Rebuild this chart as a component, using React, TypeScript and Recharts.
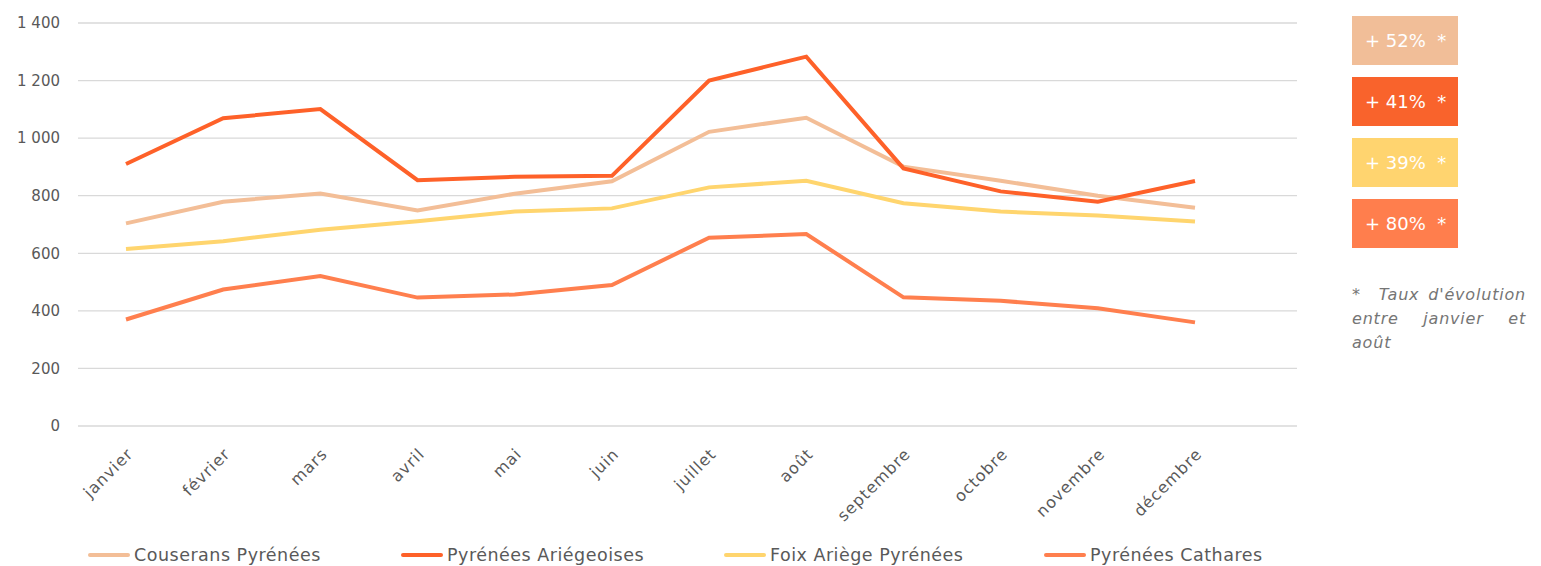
import { CartesianGrid, Line, LineChart, XAxis, YAxis } from "recharts";

const months = [
  "janvier",
  "février",
  "mars",
  "avril",
  "mai",
  "juin",
  "juillet",
  "août",
  "septembre",
  "octobre",
  "novembre",
  "décembre",
];

const couserans = [704, 779, 808, 749, 807, 850, 1022, 1071, 901, 852, 800, 758];
const ariegeoises = [910, 1069, 1101, 854, 866, 869, 1200, 1283, 895, 815, 779, 851];
const foix = [615, 642, 682, 711, 745, 756, 829, 852, 774, 745, 731, 710];
const cathares = [370, 474, 521, 446, 457, 490, 654, 667, 447, 435, 409, 360];

const yTicks = [0, 200, 400, 600, 800, 1000, 1200, 1400];

const seriesNames = [
  "Couserans Pyrénées",
  "Pyrénées Ariégeoises",
  "Foix Ariège Pyrénées",
  "Pyrénées Cathares",
];
const growth = ["+ 52%", "+ 41%", "+ 39%", "+ 80%"];

const colors = ["#F3BE97", "#FE6129", "#FFD56E", "#FF7F4E"];
const boxColors = ["#F1BE98", "#F9632C", "#FFD46F", "#FF7E4D"];
const legendLeft = [88, 401, 724, 1044];

const FONT = "'DejaVu Sans', 'Noto Sans', sans-serif";
const TEXT = "#595959";

const data = months.map((month, i) => ({
  month,
  couserans: couserans[i],
  ariegeoises: ariegeoises[i],
  foix: foix[i],
  cathares: cathares[i],
}));

const keys = ["couserans", "ariegeoises", "foix", "cathares"];

function formatThousands(v: number) {
  return v >= 1000 ? `${Math.floor(v / 1000)} ${String(v % 1000).padStart(3, "0")}` : String(v);
}

function MonthTick(props: any) {
  const { x, y, payload } = props;
  return (
    <text
      x={0}
      y={0}
      transform={`translate(${x + 8}, ${y + 27}) rotate(-45)`}
      textAnchor="end"
      fill={TEXT}
      fontSize={16}
      letterSpacing={1}
      fontFamily={FONT}
    >
      {payload.value}
    </text>
  );
}

export default function App() {
  return (
    <div
      style={{
        position: "absolute",
        left: 0,
        top: 0,
        width: 1541,
        height: 566,
        background: "#fff",
        fontFamily: FONT,
      }}
    >
      <LineChart
        width={1297}
        height={566}
        data={data}
        margin={{ top: 23, right: 0, left: 0, bottom: 0 }}
      >
        <CartesianGrid vertical={false} stroke="#d9d9d9" strokeWidth={1.3} />
        <XAxis
          dataKey="month"
          height={140}
          axisLine={false}
          tickLine={false}
          tickSize={0}
          interval={0}
          padding={{ left: 48, right: 102 }}
          tick={<MonthTick />}
        />
        <YAxis
          width={78}
          domain={[0, 1400]}
          ticks={yTicks}
          axisLine={false}
          tickLine={false}
          tickSize={0}
          tickMargin={18}
          tickFormatter={formatThousands}
          tick={{ fill: TEXT, fontSize: 15, fontFamily: FONT }}
        />
        {keys.map((k, i) => (
          <Line
            key={k}
            type="linear"
            dataKey={k}
            name={seriesNames[i]}
            stroke={colors[i]}
            strokeWidth={4}
            dot={false}
            activeDot={false}
            isAnimationActive={false}
          />
        ))}
      </LineChart>

      {seriesNames.map((name, i) => (
        <div
          key={name}
          style={{
            position: "absolute",
            left: legendLeft[i],
            top: 543,
            height: 24,
            display: "flex",
            alignItems: "center",
            color: TEXT,
            fontSize: 17.5,
            letterSpacing: 0.5,
            whiteSpace: "nowrap",
          }}
        >
          <span
            style={{
              display: "inline-block",
              width: 42,
              height: 4,
              borderRadius: 2,
              background: colors[i],
              marginRight: 4,
            }}
          />
          {name}
        </div>
      ))}

      {growth.map((g, i) => (
        <div
          key={g}
          style={{
            position: "absolute",
            left: 1352,
            top: 16 + i * 61,
            width: 106,
            height: 49,
            background: boxColors[i],
            color: "#fff",
            fontSize: 18,
            display: "flex",
            alignItems: "center",
            paddingLeft: 13,
            boxSizing: "border-box",
            whiteSpace: "pre",
          }}
        >
          {`${g}  *`}
        </div>
      ))}

      <div
        style={{
          position: "absolute",
          left: 1352,
          top: 283,
          width: 174,
          color: "#757575",
          fontSize: 16,
          letterSpacing: 0.8,
          fontStyle: "italic",
          lineHeight: "24px",
          textAlign: "justify",
        }}
      >
        *&nbsp;&nbsp;Taux d'évolution entre janvier et août
      </div>
    </div>
  );
}
